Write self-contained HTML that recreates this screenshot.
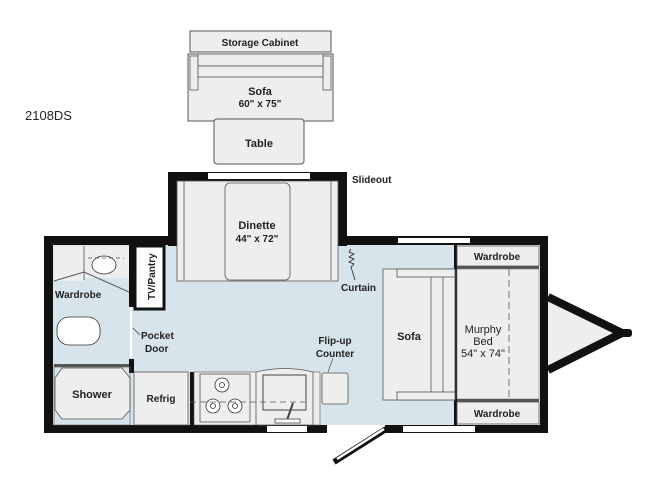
<!DOCTYPE html>
<html><head><meta charset="utf-8"><style>
html,body{margin:0;padding:0;background:#fff;}
svg{display:block;}
text{font-family:"Liberation Sans",sans-serif;font-size:11px;fill:#222;font-weight:bold;}
</style></head><body>
<svg width="653" height="490" viewBox="0 0 653 490" xmlns="http://www.w3.org/2000/svg">
<text x="25" y="120" style="font-weight:normal;font-size:13px">2108DS</text>

<rect x="190" y="31" width="141" height="21" fill="#eeeeee" stroke="#555" stroke-width="1"/>
<text x="260" y="46" text-anchor="middle" style="font-size:10px">Storage Cabinet</text>
<rect x="188" y="54" width="145" height="67" fill="#eeeeee" stroke="#555" stroke-width="1"/>
<rect x="190" y="56" width="8" height="34" fill="#eee" stroke="#555" stroke-width="0.8"/>
<rect x="323" y="56" width="8" height="34" fill="#eee" stroke="#555" stroke-width="0.8"/>
<rect x="198" y="54" width="125" height="12" fill="#eee" stroke="#555" stroke-width="0.8"/>
<rect x="198" y="66" width="125" height="11" fill="#eee" stroke="#555" stroke-width="0.8"/>
<text x="260" y="95" text-anchor="middle">Sofa</text>
<text x="260" y="107" text-anchor="middle" style="font-size:10px">60" x 75"</text>
<rect x="214" y="119" width="90" height="45" rx="3" fill="#eeeeee" stroke="#555" stroke-width="1"/>
<text x="259" y="147" text-anchor="middle">Table</text>

<rect x="53" y="245" width="487" height="180" fill="#d8e4eb"/>
<rect x="177" y="181" width="161" height="66" fill="#d8e4eb"/>

<rect x="168" y="172" width="179" height="9" fill="#111"/>
<rect x="168" y="172" width="9" height="74" fill="#111"/>
<rect x="338" y="172" width="9" height="74" fill="#111"/>
<rect x="208" y="173" width="102" height="6" fill="#fff"/>
<rect x="44" y="236" width="133" height="9" fill="#111"/>
<rect x="338" y="236" width="210" height="9" fill="#111"/>
<rect x="398" y="238" width="72" height="5" fill="#fff"/>
<rect x="44" y="236" width="9" height="197" fill="#111"/>
<rect x="540" y="236" width="8" height="197" fill="#111"/>
<rect x="44" y="425" width="283" height="8" fill="#111"/>
<rect x="385" y="425" width="163" height="8" fill="#111"/>
<rect x="267" y="426" width="40" height="6" fill="#fff"/>
<rect x="403" y="426" width="72" height="6" fill="#fff"/>
<rect x="327" y="426" width="58" height="6" fill="#fff"/>
<line x1="386" y1="429" x2="334" y2="462" stroke="#111" stroke-width="6"/>
<line x1="384" y1="429" x2="337" y2="459" stroke="#fff" stroke-width="2.5"/>

<polygon points="548,300 620,333 548,368" fill="#eeeeee"/>
<polyline points="548,297 622,333 548,370" fill="none" stroke="#111" stroke-width="8" stroke-linejoin="round"/>
<rect x="618" y="329" width="14" height="8" rx="3" fill="#111"/>

<rect x="455" y="245" width="85" height="180" fill="#f0f0f0"/>
<rect x="454" y="245" width="3" height="180" fill="#111"/>
<rect x="457" y="246" width="82" height="20" fill="#eee" stroke="#555" stroke-width="0.8"/>
<text x="497" y="260" text-anchor="middle" style="font-size:10px">Wardrobe</text>
<rect x="457" y="266" width="82" height="3" fill="#555"/>
<rect x="457" y="269" width="82" height="130" fill="#eee" stroke="#777" stroke-width="0.6"/>
<line x1="509" y1="269" x2="509" y2="399" stroke="#555" stroke-width="0.8" stroke-dasharray="7,4"/>
<rect x="457" y="399" width="82" height="3" fill="#555"/>
<rect x="457" y="402" width="82" height="22" fill="#eee" stroke="#555" stroke-width="0.8"/>
<text x="497" y="417" text-anchor="middle" style="font-size:10px">Wardrobe</text>
<text x="483" y="333" text-anchor="middle" style="font-weight:normal">Murphy</text>
<text x="483" y="345" text-anchor="middle" style="font-weight:normal">Bed</text>
<text x="483" y="357" text-anchor="middle" style="font-weight:normal">54" x 74"</text>

<rect x="383" y="269" width="72" height="131" fill="#eee" stroke="#555" stroke-width="0.8"/>
<rect x="397" y="269" width="58" height="8" fill="#eee" stroke="#555" stroke-width="0.8"/>
<rect x="397" y="392" width="58" height="8" fill="#eee" stroke="#555" stroke-width="0.8"/>
<line x1="431" y1="277" x2="431" y2="392" stroke="#555" stroke-width="0.8"/>
<line x1="443" y1="277" x2="443" y2="392" stroke="#555" stroke-width="0.8"/>
<text x="409" y="340" text-anchor="middle">Sofa</text>

<rect x="177" y="181" width="161" height="100" fill="#eee" stroke="#555" stroke-width="0.8"/>
<line x1="184" y1="181" x2="184" y2="280" stroke="#555" stroke-width="0.8"/>
<line x1="331" y1="181" x2="331" y2="280" stroke="#555" stroke-width="0.8"/>
<rect x="225" y="183" width="65" height="97" rx="5" fill="#eee" stroke="#555" stroke-width="0.8"/>
<text x="257" y="229" text-anchor="middle">Dinette</text>
<text x="257" y="242" text-anchor="middle" style="font-size:10px">44" x 72"</text>
<text x="352" y="183" style="font-size:10px">Slideout</text>

<polyline points="351,249 349,252 354,254 349,257 354,259 349,262 354,264 351,267 355,280" fill="none" stroke="#222" stroke-width="0.8"/>
<text x="341" y="291" style="font-size:10px">Curtain</text>

<rect x="53" y="245" width="79" height="180" fill="#d8e4eb"/>
<rect x="129" y="245" width="5" height="62" fill="#111"/>
<rect x="129" y="359" width="5" height="14" fill="#111"/>
<line x1="131" y1="307" x2="131" y2="358" stroke="#fff" stroke-width="2"/>
<rect x="54" y="246" width="30" height="35" fill="#eee"/>
<rect x="85" y="246" width="44" height="32" fill="#eee"/>
<line x1="84" y1="246" x2="84" y2="280" stroke="#555" stroke-width="0.8"/>
<polyline points="54,281 84,272 129,292" fill="none" stroke="#555" stroke-width="1"/>
<ellipse cx="104" cy="265" rx="12" ry="9" fill="#fff" stroke="#333" stroke-width="0.8"/>
<line x1="88" y1="258" x2="124" y2="258" stroke="#555" stroke-width="0.8" stroke-dasharray="4,3"/>
<text x="55" y="298" style="font-size:10px">Wardrobe</text>
<rect x="57" y="317" width="43" height="28" rx="12" fill="#fff" stroke="#333" stroke-width="0.8"/>
<rect x="54" y="364" width="75" height="3" fill="#555"/>
<path d="M62,368 H122 L130,378 V410 L122,419 H62 L55,410 V378 Z" fill="#eee" stroke="#555" stroke-width="0.8"/>
<rect x="54" y="367" width="76" height="58" fill="none" stroke="#555" stroke-width="0.6"/>
<text x="92" y="398" text-anchor="middle">Shower</text>
<text x="141" y="339" style="font-size:10px">Pocket</text>
<text x="145" y="352" style="font-size:10px">Door</text>
<line x1="133" y1="328" x2="140" y2="335" stroke="#333" stroke-width="0.6"/>

<rect x="134" y="245" width="31" height="65" fill="#fff"/>
<rect x="135" y="246" width="29" height="63" fill="none" stroke="#111" stroke-width="3"/>
<text transform="translate(155,300) rotate(-90)" style="font-size:10px">TV/Pantry</text>

<rect x="134" y="372" width="54" height="53" fill="#eee" stroke="#555" stroke-width="0.8"/>
<text x="161" y="402" text-anchor="middle" style="font-size:10px">Refrig</text>
<rect x="190" y="372" width="4" height="53" fill="#111"/>
<rect x="194" y="372" width="126" height="53" fill="#eee" stroke="#555" stroke-width="0.6"/>
<rect x="200" y="374" width="50" height="48" fill="#eee" stroke="#555" stroke-width="0.8"/>
<circle cx="222" cy="385" r="7" fill="#fff" stroke="#333" stroke-width="0.8"/><circle cx="222" cy="385" r="2.5" fill="none" stroke="#333" stroke-width="0.8"/>
<circle cx="213" cy="406" r="7" fill="#fff" stroke="#333" stroke-width="0.8"/><circle cx="213" cy="406" r="2.5" fill="none" stroke="#333" stroke-width="0.8"/>
<circle cx="235" cy="406" r="7" fill="#fff" stroke="#333" stroke-width="0.8"/><circle cx="235" cy="406" r="2.5" fill="none" stroke="#333" stroke-width="0.8"/>
<path d="M256,372 Q285,365 313,372 V425 H256 Z" fill="#eee" stroke="#555" stroke-width="0.8"/>
<rect x="263" y="375" width="43" height="35" fill="#eee" stroke="#444" stroke-width="1"/>
<line x1="293" y1="403" x2="287" y2="420" stroke="#444" stroke-width="2"/>
<rect x="275" y="419" width="25" height="4" fill="#fff" stroke="#444" stroke-width="0.8"/>
<line x1="190" y1="402" x2="305" y2="402" stroke="#555" stroke-width="0.8" stroke-dasharray="6,4"/>
<rect x="322" y="373" width="26" height="31" rx="2" fill="#eee" stroke="#555" stroke-width="0.8"/>
<line x1="333" y1="358" x2="328" y2="372" stroke="#333" stroke-width="0.6"/>
<text x="335" y="344" text-anchor="middle" style="font-size:10px">Flip-up</text>
<text x="335" y="357" text-anchor="middle" style="font-size:10px">Counter</text>
</svg>
</body></html>
